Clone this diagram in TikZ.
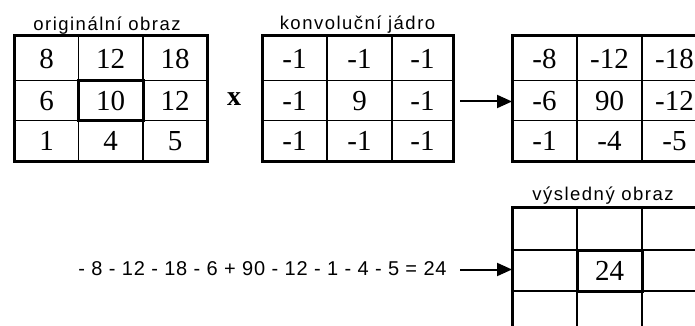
\documentclass[tikz,border=0pt]{standalone}
\usepackage{fontspec}
\setmainfont{Liberation Serif}
\newfontfamily\lblfont[LetterSpace=8]{Liberation Sans}
\newfontfamily\eqfont[LetterSpace=4]{Liberation Sans}
\usetikzlibrary{arrows.meta}
\begin{document}
\begin{tikzpicture}[x=1pt,y=-1pt,
  outer/.style={draw, line width=3pt, inner sep=0pt, outer sep=0pt},
  inner/.style={line width=1.8pt},
  hilite/.style={draw, line width=3pt},
  cell/.style={font=\fontsize{29}{31}\selectfont, inner sep=0pt, anchor=center},
  lbl/.style={font=\lblfont\fontsize{18.5}{21}\selectfont, inner sep=0pt, anchor=base},
  eqn/.style={font=\eqfont\fontsize{20}{23}\selectfont, inner sep=0pt, anchor=base},
  conn/.style={line width=2pt, -{Triangle[length=15pt,width=13pt]}}]
\useasboundingbox (0,0) rectangle (695,326);
\fill[white] (0,0) rectangle (695,326);
\clip (0,0) rectangle (695,326);

% grid 1: original image
\node[outer, minimum width=193pt, minimum height=125pt] (g1) at (110.5,98.5) {};
\draw[inner] (78.5,36) -- (78.5,161) (143,36) -- (143,161)
             (14,80.5) -- (207,80.5) (14,120.5) -- (207,120.5);
\draw[hilite] (78.5,80.5) rectangle (143,120.5);
\node[cell] (a11) at (46.5,59) {8};
\node[cell] (a12) at (110.5,59) {12};
\node[cell] (a13) at (175,59) {18};
\node[cell] (a21) at (46.5,101) {6};
\node[cell] (a22) at (110.5,101) {10};
\node[cell] (a23) at (175,101) {12};
\node[cell] (a31) at (46.5,141) {1};
\node[cell] (a32) at (110.5,141) {4};
\node[cell] (a33) at (175,141) {5};
\node[lbl] (l1) at (107,31) {originální obraz};

% multiplication sign
\node[font=\fontsize{28}{30}\selectfont\bfseries, inner sep=0pt] (times) at (234,99) {x};

% grid 2: kernel
\node[outer, minimum width=191pt, minimum height=125pt] (g2) at (357.5,98.5) {};
\draw[inner] (327,36) -- (327,161) (392,36) -- (392,161)
             (262,80.5) -- (453,80.5) (262,120.5) -- (453,120.5);
\node[cell] (b11) at (294.5,59) {-1};
\node[cell] (b12) at (359.5,59) {-1};
\node[cell] (b13) at (422.5,59) {-1};
\node[cell] (b21) at (294.5,101) {-1};
\node[cell] (b22) at (359.5,101) {9};
\node[cell] (b23) at (422.5,101) {-1};
\node[cell] (b31) at (294.5,141) {-1};
\node[cell] (b32) at (359.5,141) {-1};
\node[cell] (b33) at (422.5,141) {-1};
\node[lbl] (l2) at (357.5,30) {konvoluční jádro};

% grid 3: products
\node[outer, minimum width=195pt, minimum height=125pt] (g3) at (609.5,98.5) {};
\draw[inner] (577,36) -- (577,161) (642,36) -- (642,161)
             (512,80.5) -- (707,80.5) (512,120.5) -- (707,120.5);
\node[cell] (c11) at (544.5,59) {-8};
\node[cell] (c12) at (609.5,59) {-12};
\node[cell] (c13) at (674.5,59) {-18};
\node[cell] (c21) at (544.5,101) {-6};
\node[cell] (c22) at (609.5,101) {90};
\node[cell] (c23) at (674.5,101) {-12};
\node[cell] (c31) at (544.5,141) {-1};
\node[cell] (c32) at (609.5,141) {-4};
\node[cell] (c33) at (674.5,141) {-5};

% grid 4: result
\node[outer, minimum width=195pt, minimum height=125pt] (g4) at (609.5,269.5) {};
\draw[inner] (577,207) -- (577,332) (642,207) -- (642,332)
             (512,250) -- (707,250) (512,291) -- (707,291);
\draw[hilite] (577,250) rectangle (642,291);
\node[cell] (d22) at (609.5,270.5) {24};
\node[lbl] (l4) at (603,200) {výsledný obraz};

% equation
\node[eqn] (eq) at (262.5,275) {- 8 - 12 - 18 - 6 + 90 - 12 - 1 - 4 - 5 = 24};

% connectors
\coordinate (s1) at (460,101.5);
\draw[conn] (s1) -- (s1 -| g3.west);
\coordinate (s2) at (460,269.5);
\draw[conn] (s2) -- (s2 -| g4.west);
\end{tikzpicture}
\end{document}
